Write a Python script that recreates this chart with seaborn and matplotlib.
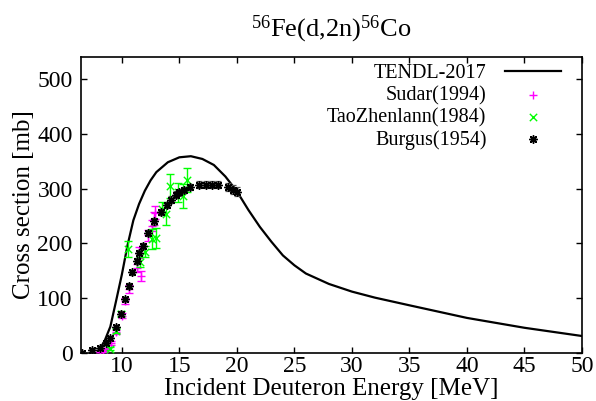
import numpy as np
import pandas as pd
import matplotlib
matplotlib.use("Agg")
import matplotlib.pyplot as plt
import seaborn as sns

# ---------------- data ----------------
tendl_e = [7.9, 8.3, 8.5, 9.0, 9.5, 10.0, 10.5, 11.0, 11.5, 12.0, 12.5, 13.0, 14.0, 15.0,
           16.0, 17.0, 18.0, 19.0, 20.0, 21.0, 22.0, 23.0, 24.0, 25.0, 26.0, 28.0,
           30.0, 32.0, 35.0, 40.0, 45.0, 50.0]
tendl_xs = [0, 15, 22, 48, 95, 143, 197, 242, 272, 296, 315, 330, 348, 357,
            359, 354, 343, 322, 295, 261, 230, 203, 178, 160, 145, 126,
            112, 101, 87, 64, 46, 31]

sudar_e = [8.1, 8.4, 8.7, 9.1, 9.5, 10.0, 10.3, 10.6, 11.3, 11.65, 11.5, 12.3, 12.6, 12.8, 12.9]
sudar_xs = [1, 4, 8, 18, 38, 68, 95, 117, 155, 141, 183, 215, 232, 245, 256]
sudar_err = [2, 2, 2, 3, 4, 5, 6, 7, 8, 9, 10, 10, 10, 12, 12]

tao_e = [8.95, 9.5, 9.97, 10.55, 11.55, 12.05, 12.6, 12.95, 13.45, 13.8, 14.2, 14.9, 15.3, 15.65]
tao_xs = [8, 40, 72, 190, 166, 185, 208, 210, 263, 254, 305, 293, 287, 315]
tao_err = [3, 4, 5, 14, 10, 10, 18, 18, 12, 20, 22, 18, 22, 22]

burgus_e = [6.55, 7.4, 8.1, 8.6, 9.0, 9.45, 9.9, 10.25, 10.6, 10.9, 11.3, 11.5, 11.8,
            12.3, 12.8, 13.4, 13.9, 14.3, 14.75, 15.0, 15.4, 15.95, 16.7, 17.3,
            17.85, 18.4, 19.25, 19.7, 20.0]
burgus_xs = [0, 6, 10, 18, 27, 48, 72, 98, 122, 147, 168, 183, 195,
             219, 240, 257, 270, 280, 289, 293, 297, 303, 307, 307,
             307, 307, 303, 298, 294]
burgus_err = [1, 1, 2, 2, 3, 3, 4, 4, 5, 5, 5, 5, 5,
              6, 6, 6, 6, 6, 6, 6, 6, 6, 6, 6,
              6, 6, 7, 8, 8]

title_text = r"$^{56}$Fe(d,2n)$^{56}$Co"
x_label = "Incident Deuteron Energy [MeV]"
y_label = "Cross section [mb]"
x_ticks = [10, 15, 20, 25, 30, 35, 40, 45, 50]
y_ticks = [0, 100, 200, 300, 400, 500]

# ---------------- style ----------------
plt.rcParams["font.family"] = ["Liberation Serif", "DejaVu Serif"]
plt.rcParams["mathtext.fontset"] = "custom"
plt.rcParams["mathtext.rm"] = "Liberation Serif"
plt.rcParams["mathtext.it"] = "Liberation Serif:italic"

W, H = 596, 401
fig = plt.figure(figsize=(W / 100, H / 100), dpi=100)
L, R, T, B = 81, 582, 57, 353
ax = fig.add_axes([L / W, 1 - B / H, (R - L) / W, (B - T) / H])

tendl_df = pd.DataFrame({"E": tendl_e, "xs": tendl_xs})
sudar_df = pd.DataFrame({"E": sudar_e, "xs": sudar_xs, "err": sudar_err})
tao_df = pd.DataFrame({"E": tao_e, "xs": tao_xs, "err": tao_err})
burgus_df = pd.DataFrame({"E": burgus_e, "xs": burgus_xs, "err": burgus_err})

mag = "#ff00ff"
grn = "#00ff00"

sns.lineplot(data=tendl_df, x="E", y="xs", ax=ax, color="black", lw=1.6,
             label="TENDL-2017", sort=False, zorder=2)

ax.errorbar(sudar_df["E"], sudar_df["xs"], yerr=sudar_df["err"], fmt="none",
            ecolor=mag, elinewidth=1.0, capsize=3, capthick=1.0, zorder=3)
sns.scatterplot(data=sudar_df, x="E", y="xs", ax=ax, marker="+", color=mag,
                s=32, linewidth=1.0, label="Sudar(1994)", zorder=3)

ax.errorbar(tao_df["E"], tao_df["xs"], yerr=tao_df["err"], fmt="none",
            ecolor=grn, elinewidth=1.0, capsize=3, capthick=1.0, zorder=4)
sns.scatterplot(data=tao_df, x="E", y="xs", ax=ax, marker="x", color=grn,
                s=28, linewidth=1.0, label="TaoZhenlann(1984)", zorder=4)

ax.errorbar(burgus_df["E"], burgus_df["xs"], yerr=burgus_df["err"], fmt="none",
            ecolor="#555555", elinewidth=0.9, capsize=2.5, capthick=0.9, zorder=5)
sns.scatterplot(data=burgus_df, x="E", y="xs", ax=ax, marker=(8, 2, 0), color="black",
                s=30, linewidth=1.1, label="Burgus(1954)", zorder=5)

ax.set_xlim(6.45, 50)
ax.set_ylim(0, 540)
ax.set_xticks(x_ticks)
ax.set_yticks(y_ticks)
ax.tick_params(direction="in", top=True, right=True, length=4, width=1.0,
               labelsize=17)
ax.tick_params(axis="x", pad=2)
ax.tick_params(axis="y", pad=6)
for sp in ax.spines.values():
    sp.set_linewidth(1.2)
    sp.set_color("black")

ax.set_xlabel(x_label, fontsize=18)
ax.set_ylabel(y_label, fontsize=18)
ax.xaxis.set_label_coords(0.5, -0.083)
ax.yaxis.set_label_coords(-0.092, 0.5)

fig.text(331 / W, 1 - 29 / H, title_text, ha="center", va="center", fontsize=19)

leg = ax.legend(loc="upper right", bbox_to_anchor=(0.958, 0.975), frameon=False,
                markerfirst=False, fontsize=14.5, handlelength=2.8,
                handletextpad=0.9, labelspacing=0.13, borderpad=0,
                borderaxespad=0)

fig.savefig("out.png", dpi=100)
